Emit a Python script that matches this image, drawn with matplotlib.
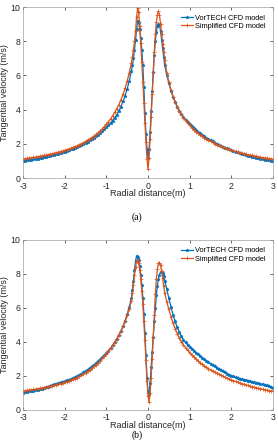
import numpy as np
import matplotlib
matplotlib.use("Agg")
import matplotlib.pyplot as plt

# radial positions (m): 0.05 step outside, 0.025 step near the core
x_left = np.round(np.arange(-3.0, -0.449, 0.05), 3)
x_core = np.round(np.arange(-0.4, 0.376, 0.025), 3)
x_right = np.round(np.arange(0.4, 3.001, 0.05), 3)
radial = np.concatenate([x_left, x_core, x_right])

# (a) VorTECH CFD model
a_vortech = [
    1.00, 1.02, 1.04, 1.06, 1.08, 1.10, 1.12, 1.14, 1.16, 1.19, 1.22, 1.24, 1.27,
    1.30, 1.33, 1.36, 1.40, 1.43, 1.47, 1.50, 1.54, 1.58, 1.62, 1.67, 1.72, 1.77,
    1.82, 1.88, 1.94, 2.00, 2.06, 2.13, 2.20, 2.28, 2.36, 2.45, 2.54, 2.64, 2.74,
    2.85, 2.96, 3.08, 3.21, 3.36, 3.52, 3.70, 3.92, 4.18, 4.48, 4.82, 5.22, 5.70,
    6.25, 6.60, 7.00, 7.50, 8.05, 8.70, 9.20, 9.10, 8.70, 8.20, 7.50, 6.60, 5.30,
    3.80, 2.60, 1.70, 1.20, 1.70, 2.70, 3.90, 5.10, 6.20, 7.20, 8.00, 8.55, 8.90,
    9.00, 8.95, 8.60, 8.10, 7.60, 7.10,
    6.60, 6.05, 5.55, 5.12, 4.76, 4.45, 4.18, 3.95, 3.75, 3.57, 3.41, 3.27, 3.14,
    3.02, 2.91, 2.80, 2.70, 2.61, 2.52, 2.44, 2.36, 2.28, 2.21, 2.14, 2.07, 2.01,
    1.95, 1.89, 1.83, 1.78, 1.73, 1.68, 1.63, 1.59, 1.54, 1.50, 1.46, 1.42, 1.38,
    1.35, 1.31, 1.28, 1.25, 1.22, 1.19, 1.16, 1.13, 1.10, 1.08, 1.05, 1.03, 1.01,
    0.99,
]
# (a) Simplified CFD model
a_simplified = [
    1.12, 1.13, 1.15, 1.17, 1.19, 1.21, 1.23, 1.25, 1.27, 1.29, 1.32, 1.34, 1.37,
    1.39, 1.42, 1.45, 1.48, 1.51, 1.55, 1.58, 1.62, 1.66, 1.70, 1.74, 1.79, 1.84,
    1.89, 1.95, 2.01, 2.07, 2.14, 2.21, 2.29, 2.37, 2.46, 2.55, 2.65, 2.76, 2.88,
    3.01, 3.15, 3.30, 3.46, 3.64, 3.84, 4.06, 4.30, 4.58, 4.90, 5.26, 5.68, 6.17,
    6.75, 7.10, 7.50, 8.00, 8.60, 9.40, 9.95, 9.70, 8.90, 7.90, 6.80, 5.60, 4.40,
    3.20, 2.10, 1.10, 0.50, 1.20, 2.30, 3.60, 4.90, 6.20, 7.40, 8.40, 9.10, 9.55,
    9.75, 9.55, 9.00, 8.40, 7.85, 7.35,
    6.90, 6.15, 5.60, 5.15, 4.77, 4.45, 4.17, 3.93, 3.72, 3.53, 3.37, 3.22, 3.08,
    2.95, 2.83, 2.72, 2.62, 2.53, 2.44, 2.36, 2.28, 2.21, 2.14, 2.08, 2.02, 1.96,
    1.91, 1.86, 1.81, 1.76, 1.72, 1.68, 1.64, 1.60, 1.56, 1.53, 1.49, 1.46, 1.43,
    1.40, 1.37, 1.34, 1.32, 1.29, 1.27, 1.24, 1.22, 1.20, 1.18, 1.16, 1.14, 1.12,
    1.10,
]
# (b) VorTECH CFD model
b_vortech = [
    1.00, 1.03, 1.05, 1.08, 1.10, 1.13, 1.16, 1.19, 1.22, 1.25, 1.29, 1.33, 1.37,
    1.41, 1.45, 1.49, 1.53, 1.57, 1.61, 1.65, 1.69, 1.73, 1.77, 1.82, 1.87, 1.93,
    1.99, 2.06, 2.13, 2.21, 2.29, 2.37, 2.46, 2.55, 2.65, 2.75, 2.86, 2.97, 3.09,
    3.21, 3.34, 3.48, 3.63, 3.80, 3.98, 4.18, 4.40, 4.65, 4.93, 5.25, 5.62, 6.05,
    6.55, 7.05, 7.60, 8.20, 8.75, 9.05, 9.00, 8.80, 8.45, 7.95, 7.35, 6.60, 5.65,
    4.50, 3.20, 1.90, 1.05, 0.95, 1.60, 2.50, 3.40, 4.30, 5.20, 6.00, 6.75, 7.30,
    7.70, 7.95, 8.10, 8.13, 8.05, 7.85,
    7.60, 7.10, 6.55, 6.05, 5.60, 5.20, 4.85, 4.56, 4.32, 4.12, 3.96, 3.82, 3.70,
    3.58, 3.47, 3.36, 3.26, 3.16, 3.07, 2.98, 2.89, 2.80, 2.72, 2.64, 2.56, 2.48,
    2.41, 2.34, 2.27, 2.20, 2.13, 2.07, 2.01, 1.96, 1.91, 1.87, 1.83, 1.80, 1.77,
    1.74, 1.71, 1.68, 1.65, 1.62, 1.59, 1.56, 1.53, 1.50, 1.46, 1.43, 1.39, 1.35,
    1.31,
]
# (b) Simplified CFD model
b_simplified = [
    1.10, 1.12, 1.14, 1.16, 1.18, 1.20, 1.22, 1.24, 1.26, 1.28, 1.31, 1.33, 1.36,
    1.38, 1.41, 1.44, 1.47, 1.50, 1.54, 1.57, 1.61, 1.65, 1.69, 1.74, 1.79, 1.84,
    1.90, 1.96, 2.03, 2.10, 2.18, 2.26, 2.35, 2.45, 2.55, 2.66, 2.77, 2.89, 3.02,
    3.16, 3.31, 3.46, 3.62, 3.79, 3.97, 4.17, 4.39, 4.63, 4.90, 5.20, 5.55, 5.95,
    6.40, 6.85, 7.35, 7.90, 8.40, 8.75, 8.82, 8.65, 8.25, 7.70, 7.00, 6.20, 5.20,
    4.10, 2.90, 1.70, 0.80, 0.45, 1.00, 1.90, 3.00, 4.30, 5.60, 6.80, 7.70, 8.30,
    8.62, 8.66, 8.50, 8.15, 7.75, 7.30,
    6.85, 6.35, 5.90, 5.48, 5.10, 4.77, 4.48, 4.23, 4.01, 3.82, 3.65, 3.50, 3.36,
    3.23, 3.11, 2.99, 2.88, 2.78, 2.68, 2.59, 2.50, 2.42, 2.35, 2.28, 2.21, 2.14,
    2.08, 2.02, 1.96, 1.91, 1.86, 1.81, 1.76, 1.71, 1.67, 1.62, 1.58, 1.54, 1.50,
    1.46, 1.43, 1.39, 1.36, 1.33, 1.30, 1.27, 1.24, 1.21, 1.18, 1.16, 1.13, 1.11,
    1.09,
]

series_names = ["VorTECH CFD model", "Simplified CFD model"]
panel_labels = ["(a)", "(b)"]
x_ticks = [-3, -2, -1, 0, 1, 2, 3]
y_ticks = [0, 2, 4, 6, 8, 10]

blue = "#0072BD"
orange = "#D95319"
plt.rcParams["font.family"] = ["Liberation Sans", "DejaVu Sans"]
plt.rcParams["axes.unicode_minus"] = False

fig = plt.figure(figsize=(2.78, 4.44), dpi=100)
ax_a = fig.add_axes([0.083, 0.599, 0.899, 0.385])
ax_b = fig.add_axes([0.083, 0.077, 0.899, 0.383])

panels = [(ax_a, a_vortech, a_simplified), (ax_b, b_vortech, b_simplified)]
for i, (ax, vt, sm) in enumerate(panels):
    ax.plot(radial, vt, color=blue, lw=0.9, marker="*", ms=2.4, mew=0.5,
            label=series_names[0])
    ax.plot(radial, sm, color=orange, lw=0.9, marker="+", ms=2.2, mew=0.5,
            label=series_names[1])
    ax.set_xlim(-3, 3)
    ax.set_ylim(0, 10)
    ax.set_xticks(x_ticks)
    ax.set_yticks(y_ticks)
    ax.tick_params(direction="in", top=True, right=True, length=2.5, width=0.5,
                   labelsize=6.3, colors="#262626")
    ax.tick_params(axis="x", pad=2.5)
    ax.tick_params(axis="y", pad=2)
    for sp in ax.spines.values():
        sp.set_linewidth(0.5)
        sp.set_color("#a0a0a0")
    ax.set_xlabel("Radial distance(m)", fontsize=6.5, labelpad=-1, color="#262626")
    ax.set_ylabel("Tangential velocity (m/s)", fontsize=6.5, labelpad=1,
                  color="#262626")
    ax.legend(loc="upper right", fontsize=5.3, frameon=False, handlelength=1.6,
              handletextpad=0.3, labelspacing=0.15, borderaxespad=0.6)

fig.text(0.493, 0.511, panel_labels[0], ha="center", va="center", fontsize=7,
         family="Liberation Serif")
fig.text(0.493, 0.019, panel_labels[1], ha="center", va="center", fontsize=7,
         family="Liberation Serif")

fig.savefig("out.png", dpi=100)
